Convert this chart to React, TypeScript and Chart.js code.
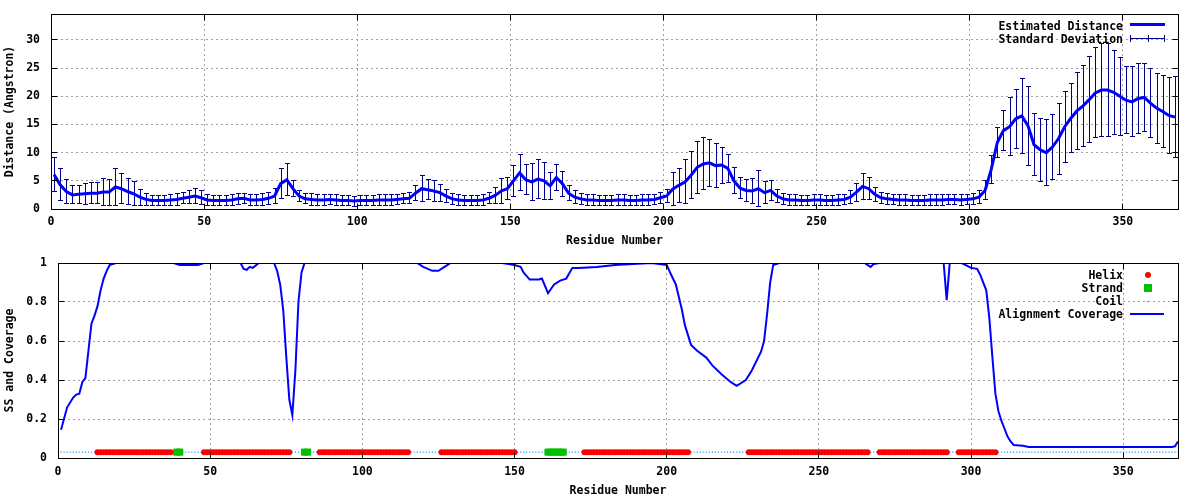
import { useEffect, useRef } from "react";
import { Chart, registerables } from "chart.js";

Chart.register(...registerables);

const FONT_FAMILY = '"DejaVu Sans Mono", monospace';
const FONT = { family: FONT_FAMILY, size: 11.5, weight: "bold" as const };
const FONT_CSS = `bold 11.5px ${FONT_FAMILY}`;

const RESIDUE_MAX = 368;
const xTickStep = 50;
const distanceTickStep = 5;
const distanceMax = 34.6;
const coverageTickStep = 0.2;

// Residues where the estimated distance / standard deviation are plotted (every 2nd residue)
const distanceResidues = Array.from({ length: 184 }, (_, i) => 1 + 2 * i);

const estimatedDistance = [
  6.1, 4.3, 3.1, 2.5, 2.6, 2.7, 2.8, 2.8, 3.0, 3.0,
  3.9, 3.6, 3.1, 2.7, 2.1, 1.7, 1.5, 1.5, 1.5, 1.6,
  1.7, 1.9, 2.1, 2.3, 2.0, 1.6, 1.5, 1.5, 1.5, 1.6,
  1.8, 1.9, 1.6, 1.6, 1.7, 1.9, 2.3, 4.5, 5.2, 3.6,
  2.3, 1.8, 1.7, 1.6, 1.6, 1.7, 1.6, 1.5, 1.5, 1.4,
  1.5, 1.5, 1.5, 1.6, 1.6, 1.6, 1.7, 1.8, 1.9, 2.8,
  3.6, 3.4, 3.2, 2.9, 2.3, 1.8, 1.6, 1.5, 1.5, 1.5,
  1.6, 1.9, 2.4, 3.2, 3.6, 5.0, 6.4, 5.2, 4.8, 5.3,
  5.0, 4.1, 5.6, 4.5, 2.8, 2.1, 1.8, 1.6, 1.6, 1.5,
  1.5, 1.5, 1.6, 1.6, 1.5, 1.5, 1.6, 1.6, 1.7, 2.0,
  2.3, 3.5, 4.2, 4.8, 6.0, 7.4, 8.0, 8.2, 7.7, 7.8,
  7.2, 5.0, 3.7, 3.3, 3.2, 3.6, 2.9, 3.3, 2.3, 1.8,
  1.6, 1.6, 1.5, 1.5, 1.6, 1.6, 1.5, 1.5, 1.6, 1.7,
  2.1, 3.0, 4.0, 3.6, 2.6, 2.0, 1.8, 1.7, 1.6, 1.6,
  1.5, 1.5, 1.5, 1.6, 1.6, 1.6, 1.7, 1.7, 1.6, 1.7,
  1.8, 2.1, 3.3, 7.0, 11.8, 13.9, 14.6, 16.0, 16.5, 14.8,
  11.4, 10.5, 10.0, 11.0, 12.5, 14.6, 16.1, 17.4, 18.3, 19.4,
  20.6, 21.1, 21.1, 20.7, 20.0, 19.3, 19.0, 19.6, 19.8, 18.8,
  17.9, 17.3, 16.6, 16.3,
];

const standardDeviation = [
  3.0, 2.8, 2.1, 1.6, 1.6, 1.9, 1.9, 1.9, 2.4, 2.3,
  3.3, 2.7, 2.3, 2.1, 1.4, 1.1, 0.9, 0.9, 0.9, 0.9,
  1.0, 1.0, 1.2, 1.4, 1.2, 0.9, 0.9, 0.9, 0.9, 0.9,
  1.0, 0.9, 0.9, 0.9, 1.0, 1.1, 1.4, 2.6, 2.8, 1.4,
  0.9, 0.9, 1.0, 0.9, 0.9, 0.9, 0.9, 0.9, 0.9, 0.9,
  0.9, 0.9, 0.9, 0.9, 0.9, 0.9, 0.9, 0.9, 1.0, 1.3,
  2.3, 1.8, 1.9, 1.5, 1.2, 1.0, 0.9, 0.9, 0.9, 0.9,
  0.9, 1.0, 1.5, 2.2, 2.0, 2.8, 3.2, 2.7, 3.3, 3.5,
  3.3, 2.4, 2.3, 2.2, 1.3, 1.1, 1.0, 0.9, 0.9, 0.9,
  0.9, 0.9, 0.9, 0.9, 0.9, 0.9, 0.9, 0.9, 0.9, 1.0,
  1.1, 2.9, 3.0, 3.9, 4.2, 4.6, 4.6, 4.2, 3.9, 3.2,
  2.5, 2.3, 1.9, 1.9, 2.3, 3.2, 1.9, 1.8, 1.2, 1.0,
  0.9, 0.9, 0.9, 0.9, 0.9, 0.9, 0.9, 0.9, 0.9, 0.9,
  1.1, 1.6, 2.3, 2.0, 1.3, 1.0, 1.0, 0.9, 0.9, 0.9,
  0.9, 0.9, 0.9, 0.9, 0.9, 0.9, 0.9, 0.9, 0.9, 0.9,
  1.0, 1.1, 1.7, 2.5, 2.6, 3.6, 5.1, 5.2, 6.7, 7.0,
  5.5, 5.6, 5.8, 5.7, 6.3, 6.3, 6.1, 6.9, 7.2, 7.6,
  8.0, 8.3, 8.2, 7.5, 6.9, 5.9, 6.2, 6.2, 6.1, 6.2,
  6.2, 6.4, 6.8, 7.2,
];

const coverageResidues = [
  1, 3, 5, 6, 7, 8, 9, 10, 11, 12,
  13, 14, 15, 16, 17, 19, 38, 40, 46, 48,
  60, 61, 62, 63, 64, 66, 71, 72, 73, 74,
  75, 76, 77, 78, 79, 80, 81, 118, 120, 123,
  125, 127, 129, 146, 150, 152, 153, 155, 158, 159,
  161, 163, 165, 167, 169, 171, 177, 183, 195, 200,
  201, 203, 205, 206, 208, 210, 213, 215, 218, 221,
  223, 226, 228, 231, 232, 233, 234, 235, 237, 265,
  267, 268, 270, 291, 292, 293, 297, 300, 302, 303,
  305, 306, 307, 308, 309, 310, 311, 312, 313, 314,
  317, 319, 366, 367, 368,
];

const coverageValues = [
  0.145, 0.26, 0.31, 0.325, 0.33, 0.39, 0.41, 0.55, 0.69, 0.73,
  0.78, 0.86, 0.92, 0.96, 0.99, 1.0, 1.0, 0.99, 0.99, 1.0,
  1.0, 0.97, 0.965, 0.98, 0.975, 1.0, 1.0, 0.96, 0.89, 0.76,
  0.52, 0.3, 0.22, 0.45, 0.8, 0.95, 1.0, 1.0, 0.98, 0.96,
  0.96, 0.98, 1.0, 1.0, 0.99, 0.98, 0.95, 0.915, 0.915, 0.92,
  0.845, 0.89, 0.91, 0.92, 0.975, 0.975, 0.98, 0.99, 1.0, 0.99,
  0.955, 0.89, 0.76, 0.68, 0.58, 0.55, 0.515, 0.475, 0.43, 0.39,
  0.37, 0.4, 0.45, 0.545, 0.6, 0.74, 0.9, 0.99, 1.0, 1.0,
  0.98, 0.995, 1.0, 1.0, 0.81, 1.0, 1.0, 0.975, 0.97, 0.94,
  0.86, 0.72, 0.52, 0.33, 0.24, 0.19, 0.15, 0.11, 0.085, 0.067,
  0.063, 0.056, 0.056, 0.06, 0.085,
];

// Secondary structure segments [first residue, last residue]
const helixSegments = [
  [13, 37], [48, 76], [86, 115], [126, 150], [173, 207], [227, 266], [270, 292], [296, 308],
];
const strandSegments = [[39, 40], [81, 82], [161, 166]];
const ssLevel = 0.03;

const topLegendLabels = ["Estimated Distance", "Standard Deviation"];
const bottomLegendLabels = ["Helix", "Strand", "Coil", "Alignment Coverage"];

const COLORS = {
  distance: "#0000ff",
  errorBar: "#00008b",
  coverage: "#0000ff",
  helix: "#ff0000",
  strand: "#00c000",
  coil: "#1e90ff",
  grid: "#a0a0a0",
};

const expand = (segs: number[][]) => {
  const out: number[] = [];
  segs.forEach(([a, b]) => {
    for (let r = a; r <= b; r++) out.push(r);
  });
  return out;
};
const helixResidues = expand(helixSegments);
const strandResidues = expand(strandSegments);
const coilResidues: number[] = [];
for (let r = 1; r <= RESIDUE_MAX; r++) {
  if (!helixResidues.includes(r) && !strandResidues.includes(r)) coilResidues.push(r);
}

const al = (p: number) => Math.round(p - 0.5) + 0.5;

const framePlugin = {
  id: "frameTicks",
  afterDraw(chart: any) {
    const { ctx, chartArea: a, scales } = chart;
    const L = al(a.left), R = al(a.right), T = al(a.top), B = al(a.bottom);
    ctx.save();
    ctx.strokeStyle = "#000";
    ctx.lineWidth = 1;
    ctx.beginPath();
    const tl = 6;
    scales.y.ticks.forEach((t: any) => {
      const y = al(scales.y.getPixelForValue(t.value));
      ctx.moveTo(L, y); ctx.lineTo(L + tl, y);
      ctx.moveTo(R, y); ctx.lineTo(R - tl, y);
    });
    scales.x.ticks.forEach((t: any) => {
      const x = al(scales.x.getPixelForValue(t.value));
      ctx.moveTo(x, B); ctx.lineTo(x, B - tl);
      ctx.moveTo(x, T); ctx.lineTo(x, T + tl);
    });
    ctx.stroke();
    ctx.strokeRect(L, T, R - L, B - T);
    ctx.restore();
  },
};

const errorBarPlugin = {
  id: "errorBars",
  beforeDatasetsDraw(chart: any) {
    const { ctx, chartArea: a, scales } = chart;
    const { x, y } = scales;
    ctx.save();
    ctx.beginPath();
    ctx.rect(a.left, a.top, a.right - a.left, a.bottom - a.top);
    ctx.clip();
    ctx.strokeStyle = COLORS.errorBar;
    ctx.lineWidth = 1;
    ctx.beginPath();
    distanceResidues.forEach((r, i) => {
      const cx = Math.round(x.getPixelForValue(r));
      const lo = al(y.getPixelForValue(estimatedDistance[i] - standardDeviation[i]));
      const hi = al(y.getPixelForValue(estimatedDistance[i] + standardDeviation[i]));
      ctx.moveTo(cx + 0.5, lo); ctx.lineTo(cx + 0.5, hi);
      ctx.moveTo(cx - 2, lo); ctx.lineTo(cx + 3, lo);
      ctx.moveTo(cx - 2, hi); ctx.lineTo(cx + 3, hi);
    });
    ctx.stroke();
    ctx.restore();
  },
};

const legendText = (ctx: CanvasRenderingContext2D, text: string, x: number, y: number) => {
  ctx.font = FONT_CSS;
  ctx.textAlign = "right";
  ctx.textBaseline = "middle";
  ctx.fillStyle = "#000";
  ctx.fillText(text, x, y);
};

const topLegendPlugin = {
  id: "topLegend",
  afterDraw(chart: any) {
    const { ctx, chartArea: a } = chart;
    const tx = a.right - 55;
    const sx0 = a.right - 48, sx1 = a.right - 13;
    ctx.save();
    legendText(ctx, topLegendLabels[0], tx, a.top + 13.5);
    ctx.strokeStyle = COLORS.distance;
    ctx.lineWidth = 3;
    ctx.beginPath();
    ctx.moveTo(sx0, a.top + 10.5); ctx.lineTo(sx1, a.top + 10.5);
    ctx.stroke();
    legendText(ctx, topLegendLabels[1], tx, a.top + 26.5);
    const y = a.top + 24.5;
    ctx.strokeStyle = COLORS.errorBar;
    ctx.lineWidth = 1;
    ctx.beginPath();
    ctx.moveTo(sx0, y); ctx.lineTo(sx1, y);
    [sx0 + 0.5, Math.round((sx0 + sx1) / 2) + 0.5, sx1 - 0.5].forEach((xx) => {
      ctx.moveTo(xx, y - 3.5); ctx.lineTo(xx, y + 3.5);
    });
    ctx.stroke();
    ctx.restore();
  },
};

const bottomLegendPlugin = {
  id: "bottomLegend",
  afterDraw(chart: any) {
    const { ctx, chartArea: a } = chart;
    const tx = a.right - 55;
    const cx = a.right - 30;
    ctx.save();
    legendText(ctx, bottomLegendLabels[0], tx, a.top + 13.5);
    ctx.fillStyle = COLORS.helix;
    ctx.beginPath();
    ctx.arc(cx, a.top + 12, 3, 0, Math.PI * 2);
    ctx.fill();
    legendText(ctx, bottomLegendLabels[1], tx, a.top + 26.5);
    ctx.fillStyle = COLORS.strand;
    ctx.fillRect(cx - 4, a.top + 21, 8, 8);
    legendText(ctx, bottomLegendLabels[2], tx, a.top + 39.5);
    ctx.fillStyle = COLORS.coil;
    ctx.fillRect(cx - 1, a.top + 38, 1, 1);
    legendText(ctx, bottomLegendLabels[3], tx, a.top + 52.5);
    ctx.strokeStyle = COLORS.coverage;
    ctx.lineWidth = 2;
    ctx.beginPath();
    ctx.moveTo(a.right - 48, a.top + 51); ctx.lineTo(a.right - 14, a.top + 51);
    ctx.stroke();
    ctx.restore();
  },
};

const tickLabel = (v: number) => String(Math.round(v * 10) / 10);

const axisCommon = (tickPadding: number) => ({
  ticks: { font: FONT, color: "#000", padding: tickPadding, includeBounds: false, maxRotation: 0, autoSkip: false, callback: tickLabel },
  grid: { color: COLORS.grid, lineWidth: 1, drawTicks: false },
  border: { display: false, dash: [2, 3] },
});

const fixSize = (prop: "width" | "height", size: number) => (s: any) => {
  s[prop] = size;
  s.paddingTop = 0;
  s.paddingBottom = 0;
  s.paddingLeft = 0;
  s.paddingRight = 0;
};

export default function App() {
  const topRef = useRef<HTMLCanvasElement>(null);
  const bottomRef = useRef<HTMLCanvasElement>(null);

  useEffect(() => {
    const top = new Chart(topRef.current!, {
      type: "line",
      data: {
        datasets: [
          {
            label: topLegendLabels[0],
            data: distanceResidues.map((r, i) => ({ x: r, y: estimatedDistance[i] })),
            borderColor: COLORS.distance,
            borderWidth: 3,
            pointRadius: 0,
            tension: 0,
            fill: false,
          },
        ],
      },
      options: {
        animation: false,
        responsive: false,
        events: [],
        layout: { padding: { left: 0, right: 22, top: 14, bottom: 0 } },
        plugins: { legend: { display: false }, tooltip: { enabled: false } },
        scales: {
          x: {
            type: "linear",
            min: 0,
            max: RESIDUE_MAX,
            offset: false,
            afterFit: fixSize("height", 41),
            ...axisCommon(6),
            ticks: { ...axisCommon(6).ticks, stepSize: xTickStep },
            title: { display: true, text: "Residue Number", font: FONT, color: "#000", padding: { top: 0, bottom: 2 } },
          },
          y: {
            type: "linear",
            min: 0,
            max: distanceMax,
            afterFit: fixSize("width", 51),
            ...axisCommon(11),
            ticks: { ...axisCommon(11).ticks, stepSize: distanceTickStep },
            title: { display: true, text: "Distance (Angstron)", font: FONT, color: "#000", padding: { top: 3, bottom: 0 } },
          },
        },
      } as any,
      plugins: [errorBarPlugin, framePlugin, topLegendPlugin],
    });

    const bottom = new Chart(bottomRef.current!, {
      type: "line",
      data: {
        datasets: [
          {
            label: bottomLegendLabels[3],
            data: coverageResidues.map((r, i) => ({ x: r, y: coverageValues[i] })),
            borderColor: COLORS.coverage,
            borderWidth: 2,
            pointRadius: 0,
            tension: 0,
            fill: false,
          },
          {
            type: "scatter",
            label: bottomLegendLabels[0],
            data: helixResidues.map((r) => ({ x: r, y: ssLevel })),
            pointStyle: "circle",
            pointRadius: 3,
            pointBorderWidth: 0,
            backgroundColor: COLORS.helix,
            borderColor: COLORS.helix,
          },
          {
            type: "scatter",
            label: bottomLegendLabels[1],
            data: strandResidues.map((r) => ({ x: r, y: ssLevel })),
            pointStyle: "rect",
            pointRadius: 5,
            pointBorderWidth: 0,
            backgroundColor: COLORS.strand,
            borderColor: COLORS.strand,
          },
          {
            type: "scatter",
            label: bottomLegendLabels[2],
            data: coilResidues.map((r) => ({ x: r, y: ssLevel })),
            pointStyle: "rect",
            pointRadius: 0.8,
            pointBorderWidth: 0,
            backgroundColor: COLORS.coil,
            borderColor: COLORS.coil,
          },
        ],
      },
      options: {
        animation: false,
        responsive: false,
        events: [],
        layout: { padding: { left: 0, right: 22, top: 13, bottom: 0 } },
        plugins: { legend: { display: false }, tooltip: { enabled: false } },
        scales: {
          x: {
            type: "linear",
            min: 0,
            max: RESIDUE_MAX,
            offset: false,
            afterFit: fixSize("height", 42),
            ...axisCommon(7),
            ticks: { ...axisCommon(7).ticks, stepSize: xTickStep },
            title: { display: true, text: "Residue Number", font: FONT, color: "#000", padding: { top: 0, bottom: 2 } },
          },
          y: {
            type: "linear",
            min: 0,
            max: 1,
            afterFit: fixSize("width", 58),
            ...axisCommon(11),
            ticks: { ...axisCommon(11).ticks, stepSize: coverageTickStep },
            title: { display: true, text: "SS and Coverage", font: FONT, color: "#000", padding: { top: 3, bottom: 0 } },
          },
        },
      } as any,
      plugins: [framePlugin, bottomLegendPlugin],
    });

    return () => {
      top.destroy();
      bottom.destroy();
    };
  }, []);

  return (
    <div style={{ position: "absolute", left: 0, top: 0, width: 1200, height: 500, background: "#fff" }}>
      <canvas ref={topRef} width={1200} height={250} style={{ display: "block", width: 1200, height: 250 }} />
      <canvas ref={bottomRef} width={1200} height={250} style={{ display: "block", width: 1200, height: 250 }} />
    </div>
  );
}
